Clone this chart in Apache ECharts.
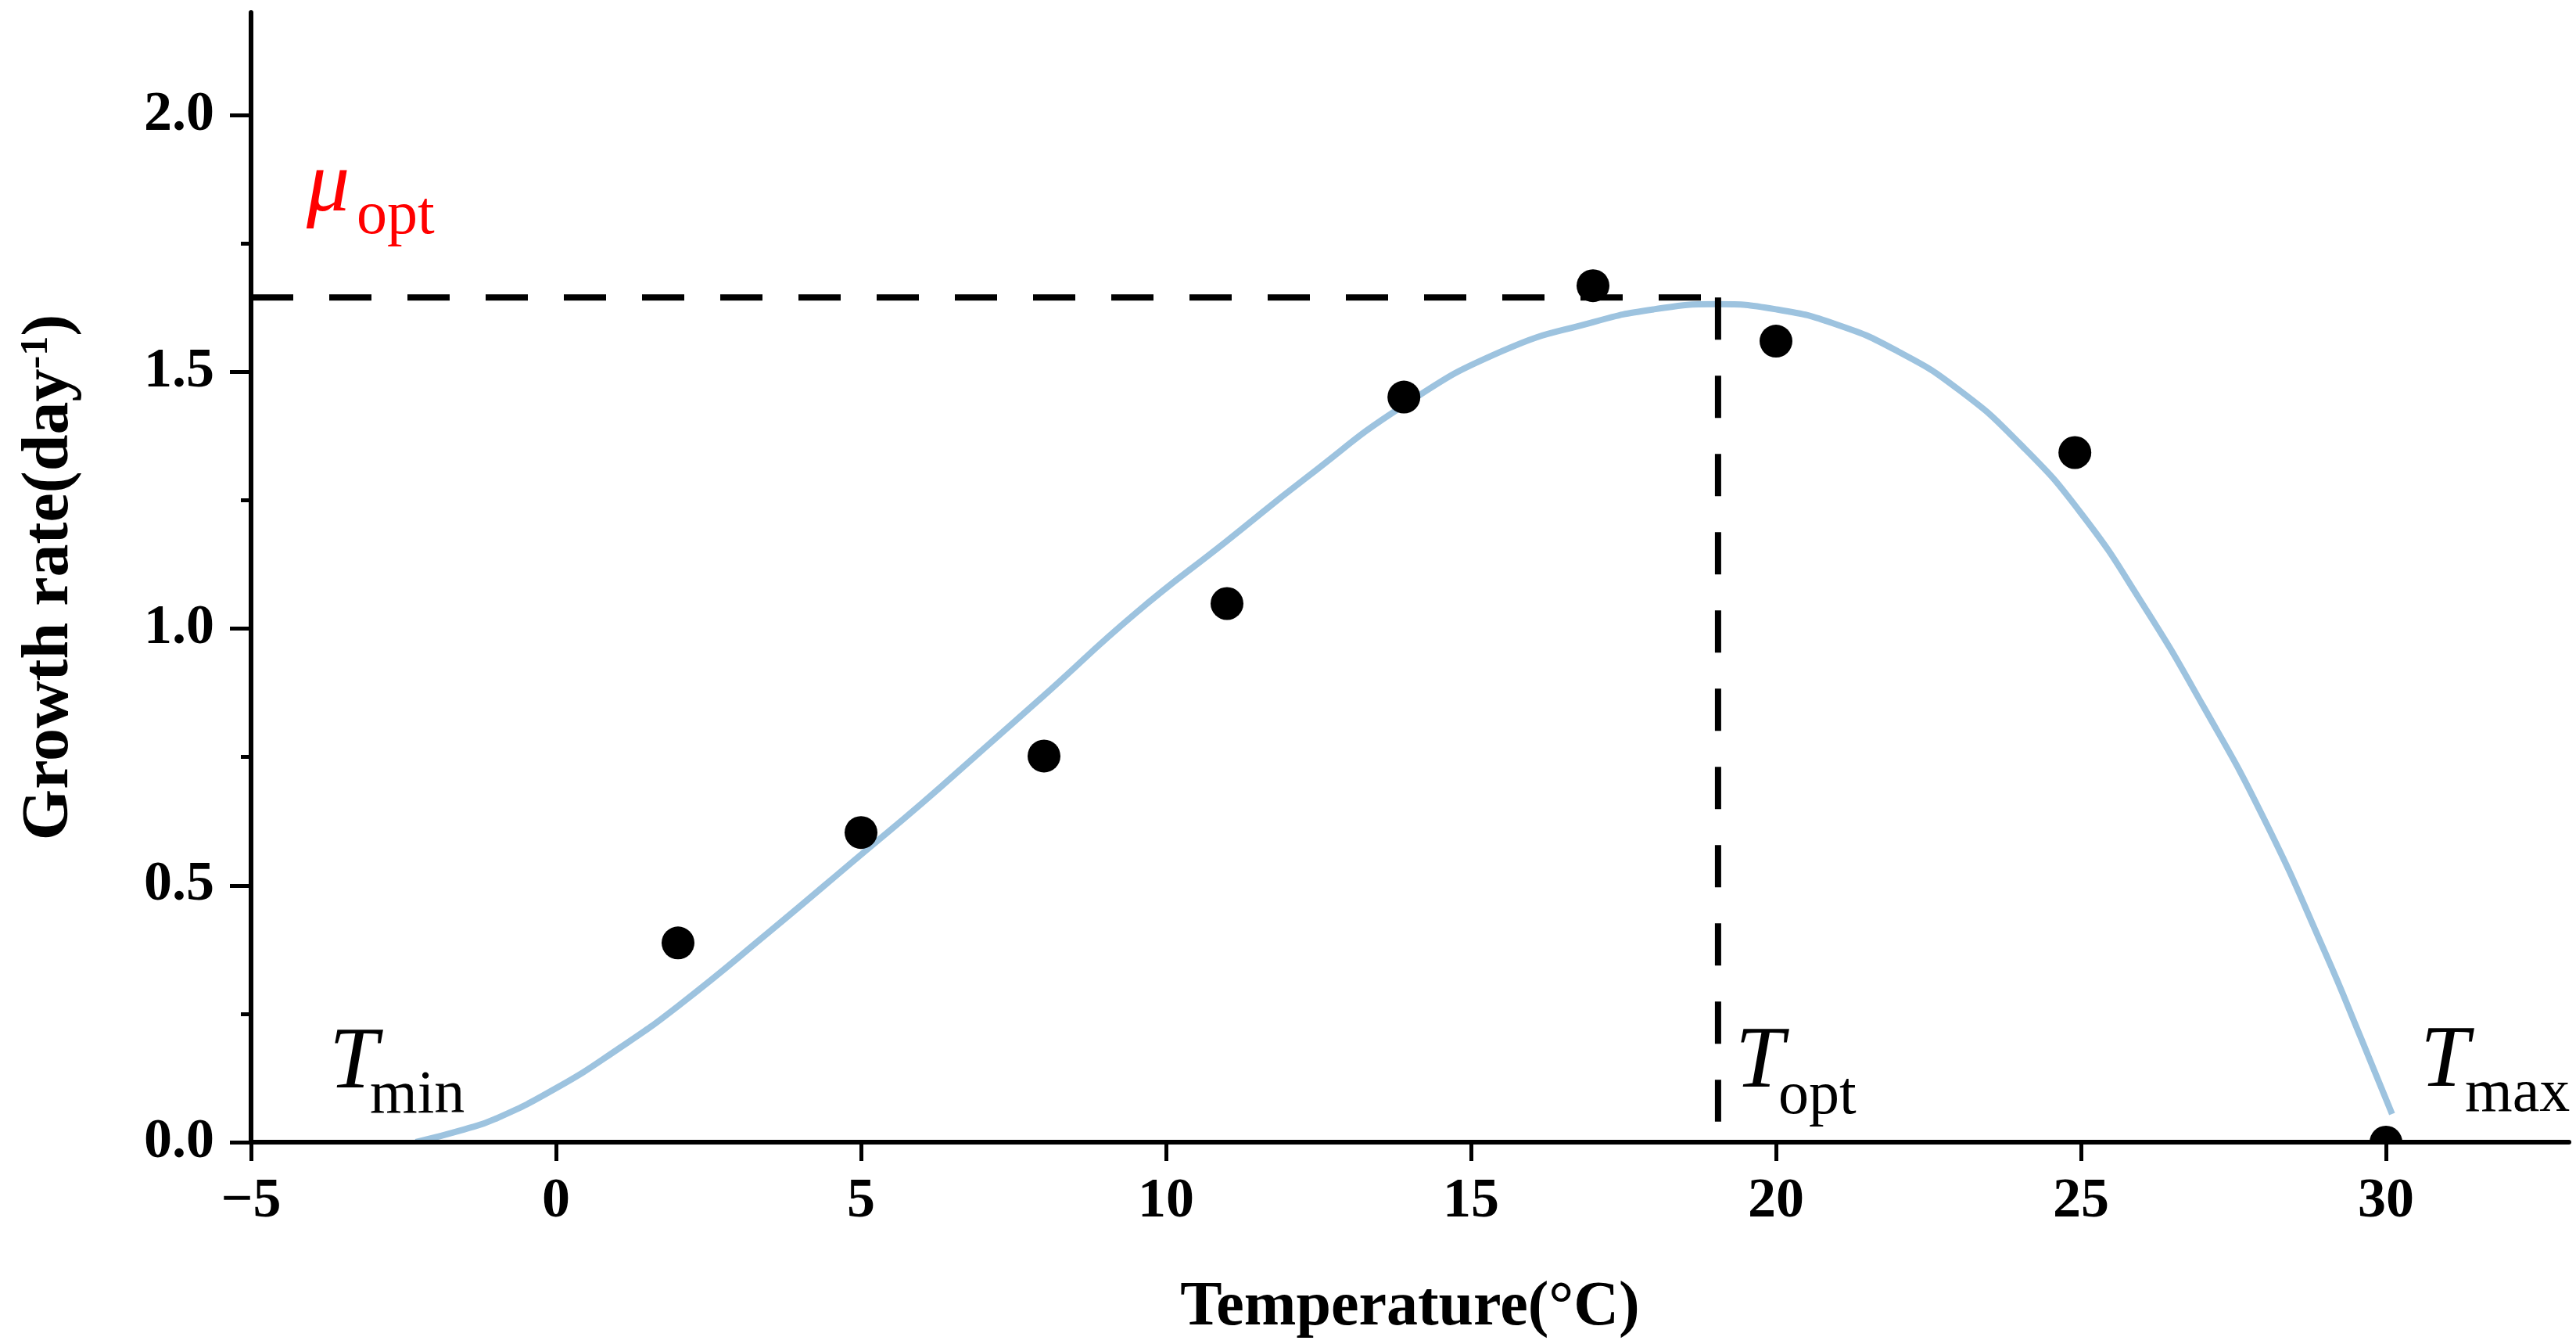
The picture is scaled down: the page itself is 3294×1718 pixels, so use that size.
<!DOCTYPE html>
<html>
<head>
<meta charset="utf-8">
<title>Growth rate vs temperature</title>
<script src="https://cdn.jsdelivr.net/npm/echarts@6/dist/echarts.min.js"></script>
<style>
  html, body { margin: 0; padding: 0; background: #fff; }
  #chart { width: 3294px; height: 1718px; }
</style>
</head>
<body>
<div id="chart"></div>
<script>
// measured growth rates
var obsTemp = [2, 5, 8, 11, 13.9, 17, 20, 24.9, 30];
var obsRate = [0.388, 0.603, 0.752, 1.049, 1.451, 1.668, 1.560, 1.343, 0.0];

// fitted curve
var fitTemp = [-2.3, -1.5, -1, 0, 1, 2, 3.5, 5, 6, 7, 8, 9.5, 11, 12.3, 13.9, 15.5, 17, 18, 19, 20, 21, 22, 23, 24, 25, 26, 27, 28, 29, 29.6, 30.1];
var fitRate = [0, 0.025, 0.045, 0.105, 0.18, 0.265, 0.41, 0.56, 0.66, 0.765, 0.87, 1.03, 1.171, 1.294, 1.435, 1.54, 1.597, 1.622, 1.632, 1.622, 1.592, 1.54, 1.465, 1.36, 1.225, 1.05, 0.85, 0.63, 0.37, 0.2, 0.055];

// cardinal values
var tOpt = 19.05;
var muOpt = 1.645;
var tOptLineEnd = 0.04;

var xTicks = [-5, 0, 5, 10, 15, 20, 25, 30];
var yTicks = [0, 0.5, 1.0, 1.5, 2.0];
var yMinorTicks = [0.25, 0.75, 1.25, 1.75];

var FONT = 'Liberation Serif';

function zip(a, b) {
  return a.map(function (v, i) { return [v, b[i]]; });
}

var chart = echarts.init(document.getElementById('chart'));

var axisText = {
  color: '#000',
  fontFamily: FONT,
  fontWeight: 'bold',
  fontSize: 72
};

chart.setOption({
  animation: false,
  backgroundColor: '#fff',
  grid: { left: 321, right: 9, top: 16, bottom: 258, containLabel: false },
  xAxis: {
    type: 'value',
    min: -5,
    max: 33,
    z: 10,
    name: 'Temperature(°C)',
    nameLocation: 'middle',
    nameGap: 172,
    nameTextStyle: { color: '#000', fontFamily: FONT, fontWeight: 'bold', fontSize: 80 },
    axisLine: { onZero: false, lineStyle: { color: '#000', width: 6 } },
    axisTick: { customValues: xTicks, length: 24, lineStyle: { color: '#000', width: 5 } },
    axisLabel: Object.assign({
      customValues: xTicks,
      margin: 40,
      formatter: function (v) { return String(v).replace('-', '\u2212'); }
    }, axisText),
    splitLine: { show: false }
  },
  yAxis: [{
    type: 'value',
    min: 0,
    max: 2.2,
    z: 10,
    position: 'left',
    name: 'Growth rate(day{sup|-1})',
    nameLocation: 'middle',
    nameGap: 215,
    nameTextStyle: {
      color: '#000', fontFamily: FONT, fontWeight: 'bold', fontSize: 84,
      rich: {
        sup: { color: '#000', fontFamily: FONT, fontWeight: 'bold', fontSize: 50, verticalAlign: 'top' }
      }
    },
    axisLine: { onZero: false, lineStyle: { color: '#000', width: 6 } },
    axisTick: { customValues: yTicks, length: 27, lineStyle: { color: '#000', width: 5 } },
    axisLabel: Object.assign({
      customValues: yTicks,
      margin: 47,
      formatter: function (v) { return v.toFixed(1); }
    }, axisText),
    splitLine: { show: false }
  }, {
    // minor ticks only
    type: 'value',
    min: 0,
    max: 2.2,
    z: 10,
    position: 'left',
    offset: 0,
    axisLine: { show: false, onZero: false },
    axisTick: { customValues: yMinorTicks, length: 13, lineStyle: { color: '#000', width: 5 } },
    axisLabel: { show: false },
    splitLine: { show: false }
  }],
  series: [{
    name: 'fit',
    type: 'line',
    data: zip(fitTemp, fitRate),
    showSymbol: false,
    symbol: 'none',
    smooth: 0.5,
    lineStyle: { color: '#9dc3df', width: 8 },
    z: 2
  }, {
    name: 'muOpt',
    type: 'line',
    data: [[-5, muOpt], [tOpt, muOpt]],
    symbol: 'none',
    lineStyle: { color: '#000', width: 8, type: [54, 46], cap: 'butt' },
    z: 3
  }, {
    name: 'tOpt',
    type: 'line',
    data: [[tOpt, muOpt], [tOpt, tOptLineEnd]],
    symbol: 'none',
    lineStyle: { color: '#000', width: 8, type: [54, 46], cap: 'butt' },
    z: 3
  }, {
    name: 'observed',
    type: 'scatter',
    data: zip(obsTemp, obsRate),
    symbol: 'circle',
    symbolSize: 42,
    itemStyle: { color: '#000', opacity: 1 },
    z: 4
  }]
});

// white mask under the x axis so points sitting on it are cut like in the original
var edge = chart.convertToPixel({ gridIndex: 0 }, [30, 0]);
var left = chart.convertToPixel({ gridIndex: 0 }, [-5, 0]);

function label(x, y, txt, size, italic, color) {
  return {
    type: 'text',
    x: x,
    y: y,
    z: 20,
    style: {
      text: txt,
      fill: color || '#000',
      fontFamily: FONT,
      fontSize: size,
      fontStyle: italic ? 'italic' : 'normal',
      align: 'left',
      verticalAlign: 'middle'
    }
  };
}

chart.setOption({
  graphic: [
    {
      type: 'rect',
      z: 6,
      shape: { x: left[0] + 4, y: edge[1] + 2, width: edge[0] - left[0] + 60, height: 30 },
      style: { fill: '#fff' }
    },
    label(392, 240, '\u03bc', 110, true, '#ff0000'),
    label(456, 278, 'opt', 78, false, '#ff0000'),
    label(421, 1361, 'T', 112, true),
    label(473, 1402, 'min', 78, false),
    label(2219, 1360, 'T', 112, true),
    label(2274, 1403, 'opt', 78, false),
    label(3095, 1359, 'T', 112, true),
    label(3152, 1400, 'max', 78, false)
  ]
});
</script>
</body>
</html>
